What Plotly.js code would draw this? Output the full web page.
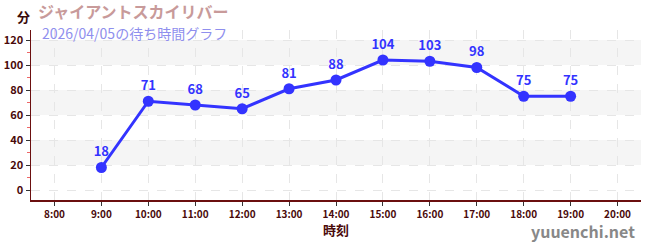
<!DOCTYPE html>
<html><head><meta charset="utf-8">
<script src="https://cdn.plot.ly/plotly-3.0.1.min.js"></script>
<style>body{margin:0;padding:0;}#c{width:650px;height:250px;}</style>
</head><body><div id="c"></div>
<script>
const categories = ["8:00","9:00","10:00","11:00","12:00","13:00","14:00","15:00","16:00","17:00","18:00","19:00","20:00"];
const times = ["9:00","10:00","11:00","12:00","13:00","14:00","15:00","16:00","17:00","18:00","19:00"];
const waits = [18,71,68,65,81,88,104,103,98,75,75];
const yTicks = [0,20,40,60,80,100,120];
const bands = [[20,40],[60,80],[100,120]];

const font = '"Noto Sans CJK JP", "Noto Sans", sans-serif';
const shapes = bands.map(b => ({type:'rect', xref:'paper', yref:'y', x0:0, x1:1, y0:b[0], y1:b[1],
  fillcolor:'#f5f5f5', line:{width:0}, layer:'below'}));

Plotly.newPlot('c', [{
  x: times, y: waits, type:'scatter', mode:'lines+markers+text',
  text: waits.map(String), textposition:'top center',
  textfont:{family:font, size:13, color:'#3333ff', weight:'bold'},
  line:{color:'#3333ff', width:3},
  marker:{color:'#3333ff', size:11},
  cliponaxis:false, hoverinfo:'none'
}], {
  width:650, height:250,
  margin:{l:31, r:9, t:30, b:50},
  paper_bgcolor:'#ffffff', plot_bgcolor:'#ffffff',
  showlegend:false,
  shapes: shapes,
  font:{family:font},
  xaxis:{type:'category', categoryarray:categories, tickvals:categories, range:[-0.5,12.5],
    showline:true, linecolor:'#6b0f0f', linewidth:1.5,
    ticks:'outside', ticklen:4, tickcolor:'#333',
    showgrid:true, gridcolor:'#e6e6e6', griddash:'dash', gridwidth:1,
    tickfont:{family:font, size:10, color:'#4a0a0a', weight:'bold'},
    title:{text:'時刻', font:{family:font, size:13, color:'#4a0a0a', weight:'bold'}, standoff:5},
    zeroline:false, fixedrange:true},
  yaxis:{range:[-8,128], tickvals:yTicks,
    showline:true, linecolor:'#6b0f0f', linewidth:1.5,
    ticks:'outside', ticklen:4, tickcolor:'#333',
    minor:{tickvals:[10,30,50,70,90,110], ticks:'outside', ticklen:3, tickcolor:'#ee6666', showgrid:false},
    showgrid:true, gridcolor:'#e6e6e6', griddash:'dash', gridwidth:1,
    tickfont:{family:font, size:11, color:'#4a0a0a', weight:'bold'},
    zeroline:false, fixedrange:true},
  annotations:[
    {text:'ジャイアントスカイリバー', xref:'paper', yref:'paper', x:0, xanchor:'left', y:1, yanchor:'middle', xshift:5, yshift:19,
      showarrow:false, font:{family:font, size:16, color:'#c89a9a', weight:'bold'}},
    {text:'2026/04/05の待ち時間グラフ', xref:'paper', yref:'paper', x:0, xanchor:'left', y:1, yanchor:'middle', xshift:9, yshift:-3,
      showarrow:false, font:{family:font, size:14, color:'#8f8fee'}},
    {text:'分', xref:'paper', yref:'paper', x:0, xanchor:'right', y:1, yanchor:'middle', xshift:1, yshift:14,
      showarrow:false, font:{family:font, size:13, color:'#3a0a0a', weight:'bold'}},
    {text:'yuuenchi.net', xref:'paper', yref:'paper', x:1, xanchor:'right', y:0, yanchor:'middle', xshift:-4, yshift:-31,
      showarrow:false, font:{family:font, size:16, color:'#888888', weight:'bold'}}
  ]
}, {staticPlot:true});
</script></body></html>
